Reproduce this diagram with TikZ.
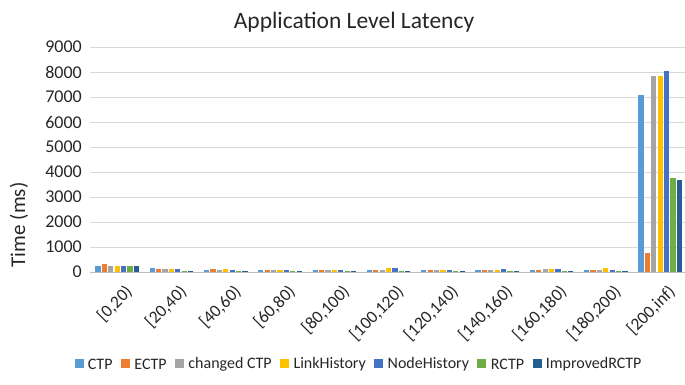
\documentclass[tikz,border=0pt]{standalone}
\usepackage{fontspec}
\setmainfont{Carlito}
\usetikzlibrary{positioning}
\definecolor{bar0}{HTML}{5B9BD5}
\definecolor{bar1}{HTML}{ED7D31}
\definecolor{bar2}{HTML}{A5A5A5}
\definecolor{bar3}{HTML}{FFC000}
\definecolor{bar4}{HTML}{4472C4}
\definecolor{bar5}{HTML}{70AD47}
\definecolor{bar6}{HTML}{255E91}
\tikzstyle{gridline}=[draw=black!15,line width=.7pt]
\tikzstyle{axisline}=[draw=black!25,line width=.8pt]
\tikzstyle{ticklabel}=[font=\fontsize{18}{18}\selectfont,text=black!85,anchor=east,inner sep=1pt]
\tikzstyle{catlabel}=[font=\fontsize{17.5}{17.5}\selectfont,text=black!85,anchor=north east,rotate=45,inner sep=1pt]
\tikzstyle{legsquare}=[minimum size=9pt,inner sep=0pt]
\tikzstyle{legtext}=[font=\fontsize{16}{16}\selectfont,text=black!85,inner sep=0pt]

\begin{document}
\begin{tikzpicture}[x=1pt,y=1pt]
	\useasboundingbox (0,0) rectangle (685,385);
	% grid
	\foreach \k in {1,...,9}
		\draw [gridline] (90,113+25*\k) -- (685,113+25*\k);
	\draw [axisline] (90,113) -- (685,113);
	\foreach \k in {0,...,9}
		\node [ticklabel] (y\k) at (83,113+25*\k) {\pgfmathparse{int(\k*1000)}\pgfmathresult};
	% bars
	\foreach \i/\lab/\vals in {
		0/{[0,20)}/{250,330,250,250,250,250,250},
		1/{[20,40)}/{150,120,100,120,120,40,40},
		2/{[40,60)}/{80,130,80,130,80,40,40},
		3/{[60,80)}/{90,90,80,80,90,40,40},
		4/{[80,100)}/{90,90,90,90,90,40,40},
		5/{[100,120)}/{80,90,90,150,150,40,40},
		6/{[120,140)}/{70,60,90,90,80,40,40},
		7/{[140,160)}/{80,60,90,90,100,40,40},
		8/{[160,180)}/{60,60,130,130,130,50,50},
		9/{[180,200)}/{80,60,90,150,80,40,40},
		10/{[200,inf)}/{7100,750,7850,7850,8050,3750,3700}}
	{
		\pgfmathsetmacro{\cx}{90+54.3*(\i+0.5)}
		\foreach \v [count=\j from 0] in \vals {
			\pgfmathsetmacro{\bx}{\cx-19.2+6.4*\j}
			\fill [bar\j] (\bx-2.6,113.4) rectangle (\bx+2.6,113+0.025*\v);
		}
		\node [catlabel] (c\i) at (\cx+7,103) {\lab};
	}
	% title and axis title
	\node [font=\fontsize{23.5}{23.5}\selectfont,text=black!85] (title) at (354,363) {Application Level Latency};
	\node [font=\fontsize{21}{21}\selectfont,text=black!85,rotate=90] (ytitle) at (19,160) {Time (ms)};
	% legend
	\node [legsquare,fill=bar0] (s0) at (79,21) {};
	\node [legtext,right=4pt of s0] (l0) {CTP};
	\node [legsquare,fill=bar1,right=8pt of l0] (s1) {};
	\node [legtext,right=4pt of s1] (l1) {ECTP};
	\node [legsquare,fill=bar2,right=8pt of l1] (s2) {};
	\node [legtext,right=4pt of s2] (l2) {changed CTP};
	\node [legsquare,fill=bar3,right=8pt of l2] (s3) {};
	\node [legtext,right=4pt of s3] (l3) {LinkHistory};
	\node [legsquare,fill=bar4,right=8pt of l3] (s4) {};
	\node [legtext,right=4pt of s4] (l4) {NodeHistory};
	\node [legsquare,fill=bar5,right=8pt of l4] (s5) {};
	\node [legtext,right=4pt of s5] (l5) {RCTP};
	\node [legsquare,fill=bar6,right=8pt of l5] (s6) {};
	\node [legtext,right=4pt of s6] (l6) {ImprovedRCTP};
\end{tikzpicture}
\end{document}
